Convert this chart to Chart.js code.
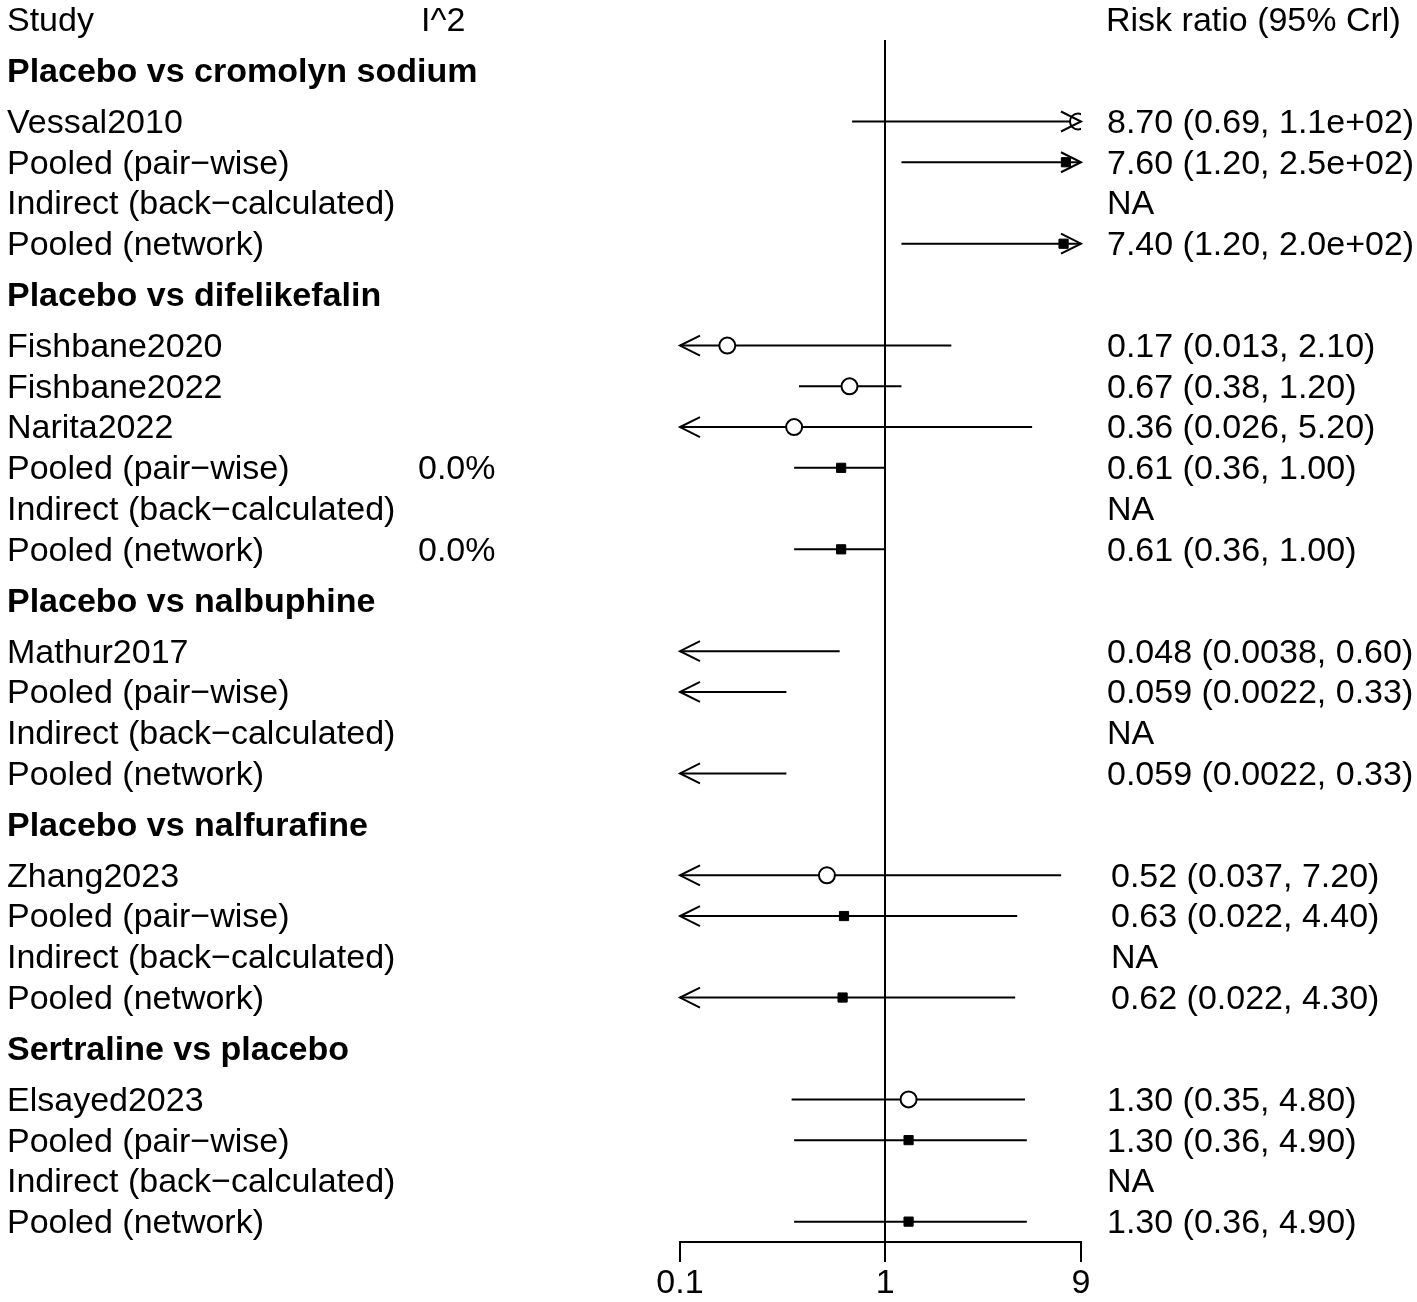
<!DOCTYPE html>
<html>
<head>
<meta charset="utf-8">
<title>Forest plot - risk ratio</title>
<script src="https://cdn.jsdelivr.net/npm/chart.js@4.4.1/dist/chart.umd.min.js"></script>
<style>
  html, body { margin: 0; padding: 0; background: #fff; }
  #wrap { width: 1417px; height: 1302px; position: relative; }
</style>
</head>
<body>
<div id="wrap"><canvas id="forest"></canvas></div>
<script>
// comparisons and how many rows sit under each one
const comparisons = [
  "Placebo vs cromolyn sodium",
  "Placebo vs difelikefalin",
  "Placebo vs nalbuphine",
  "Placebo vs nalfurafine",
  "Sertraline vs placebo",
];
const groupSizes = [4, 6, 4, 4, 4];

const rowLabels = [
  "Vessal2010", "Pooled (pair\u2212wise)", "Indirect (back\u2212calculated)", "Pooled (network)",
  "Fishbane2020", "Fishbane2022", "Narita2022", "Pooled (pair\u2212wise)", "Indirect (back\u2212calculated)", "Pooled (network)",
  "Mathur2017", "Pooled (pair\u2212wise)", "Indirect (back\u2212calculated)", "Pooled (network)",
  "Zhang2023", "Pooled (pair\u2212wise)", "Indirect (back\u2212calculated)", "Pooled (network)",
  "Elsayed2023", "Pooled (pair\u2212wise)", "Indirect (back\u2212calculated)", "Pooled (network)",
];
const rowKind = [
  "study", "pooled", "indirect", "pooled",
  "study", "study", "study", "pooled", "indirect", "pooled",
  "study", "pooled", "indirect", "pooled",
  "study", "pooled", "indirect", "pooled",
  "study", "pooled", "indirect", "pooled",
];
const estimate = [
  8.70, 7.60, null, 7.40,
  0.17, 0.67, 0.36, 0.61, null, 0.61,
  0.048, 0.059, null, 0.059,
  0.52, 0.63, null, 0.62,
  1.30, 1.30, null, 1.30,
];
const lowerCrI = [
  0.69, 1.20, null, 1.20,
  0.013, 0.38, 0.026, 0.36, null, 0.36,
  0.0038, 0.0022, null, 0.0022,
  0.037, 0.022, null, 0.022,
  0.35, 0.36, null, 0.36,
];
const upperCrI = [
  110, 250, null, 200,
  2.10, 1.20, 5.20, 1.00, null, 1.00,
  0.60, 0.33, null, 0.33,
  7.20, 4.40, null, 4.30,
  4.80, 4.90, null, 4.90,
];
const iSquared = [
  "", "", "", "",
  "", "", "", "0.0%", "", "0.0%",
  "", "", "", "",
  "", "", "", "",
  "", "", "", "",
];
const crIText = [
  "8.70 (0.69, 1.1e+02)", "7.60 (1.20, 2.5e+02)", "NA", "7.40 (1.20, 2.0e+02)",
  "0.17 (0.013, 2.10)", "0.67 (0.38, 1.20)", "0.36 (0.026, 5.20)", "0.61 (0.36, 1.00)", "NA", "0.61 (0.36, 1.00)",
  "0.048 (0.0038, 0.60)", "0.059 (0.0022, 0.33)", "NA", "0.059 (0.0022, 0.33)",
  "0.52 (0.037, 7.20)", "0.63 (0.022, 4.40)", "NA", "0.62 (0.022, 4.30)",
  "1.30 (0.35, 4.80)", "1.30 (0.36, 4.90)", "NA", "1.30 (0.36, 4.90)",
];
const axisTicks = [0.1, 1, 9];
const axisMin = 0.1, axisMax = 9;

// vertical slots: headers get a bit more room than plain rows
const headerPos = [];
const rowPos = [];
const rowGroup = [];
let pos = 0;
groupSizes.forEach((n, g) => {
  pos += 1.25;
  headerPos.push(pos);
  pos += 0.25;
  for (let i = 0; i < n; i++) {
    pos += 1;
    rowPos.push(pos);
    rowGroup.push(g);
  }
});

const FONT = '"Liberation Sans", Arial, Helvetica, sans-serif';
const LW = 2;
const inRange = v => v != null && v >= axisMin && v <= axisMax;

const studyPoints = [];
const pooledPoints = [];
estimate.forEach((e, i) => {
  if (!inRange(e)) return;
  const p = { x: e, y: rowPos[i] };
  if (rowKind[i] === "study") studyPoints.push(p);
  else if (rowKind[i] === "pooled") pooledPoints.push(p);
});

function arrowHead(ctx, x, y, dir) {
  ctx.beginPath();
  ctx.moveTo(x - dir * 20, y - 10);
  ctx.lineTo(x, y);
  ctx.lineTo(x - dir * 20, y + 10);
  ctx.stroke();
}

// interval lines (under the markers) and arrows (over them)
const intervalPlugin = {
  id: "intervals",
  beforeDatasetsDraw(chart) {
    const ctx = chart.ctx, xs = chart.scales.x, ys = chart.scales.y;
    ctx.save();
    ctx.strokeStyle = "#000";
    ctx.lineWidth = LW;
    estimate.forEach((e, i) => {
      if (e == null) return;
      const lo = Math.max(lowerCrI[i], axisMin);
      const hi = Math.min(upperCrI[i], axisMax);
      const y = ys.getPixelForValue(rowPos[i]);
      ctx.beginPath();
      ctx.moveTo(xs.getPixelForValue(lo), y);
      ctx.lineTo(xs.getPixelForValue(hi), y);
      ctx.stroke();
    });
    ctx.restore();
  },
  afterDatasetsDraw(chart) {
    const ctx = chart.ctx, xs = chart.scales.x, ys = chart.scales.y;
    ctx.save();
    ctx.strokeStyle = "#000";
    ctx.lineWidth = LW;
    estimate.forEach((e, i) => {
      if (e == null) return;
      const y = ys.getPixelForValue(rowPos[i]);
      if (lowerCrI[i] < axisMin) arrowHead(ctx, xs.getPixelForValue(axisMin), y, -1);
      if (upperCrI[i] > axisMax) arrowHead(ctx, xs.getPixelForValue(axisMax), y, 1);
    });
    ctx.restore();
  },
};

// table text on both sides of the plot
const textPlugin = {
  id: "tableText",
  afterDraw(chart) {
    const ctx = chart.ctx, ys = chart.scales.y;
    const rightX = g => (g === 3 ? 1111 : 1107);
    const ty = v => ys.getPixelForValue(v) + 2;
    ctx.save();
    ctx.fillStyle = "#000";
    ctx.textBaseline = "middle";
    ctx.textAlign = "left";
    ctx.font = "34px " + FONT;
    ctx.fillText("Study", 7, ty(0));
    ctx.fillText("I^2", 421, ty(0));
    ctx.fillText("Risk ratio (95% Crl)", 1106, ty(0));

    ctx.font = "bold 34px " + FONT;
    comparisons.forEach((c, g) => ctx.fillText(c, 7, ty(headerPos[g])));

    ctx.font = "34px " + FONT;
    rowLabels.forEach((lab, i) => {
      const y = ty(rowPos[i]);
      ctx.fillText(lab, 7, y);
      if (iSquared[i]) ctx.fillText(iSquared[i], 418, y);
      ctx.fillText(crIText[i], rightX(rowGroup[i]), y);
    });
    ctx.restore();
  },
};

new Chart(document.getElementById("forest"), {
  type: "scatter",
  data: {
    datasets: [
      {
        label: "Study",
        data: studyPoints,
        pointStyle: "circle",
        pointRadius: 8,
        pointBackgroundColor: "#fff",
        pointBorderColor: "#000",
        pointBorderWidth: LW,
      },
      {
        label: "Pooled",
        data: pooledPoints,
        pointStyle: "rect",
        pointRadius: 6.5,
        pointBackgroundColor: "#000",
        pointBorderColor: "#000",
        pointBorderWidth: 1,
      },
    ],
  },
  options: {
    responsive: true,
    maintainAspectRatio: false,
    animation: false,
    layout: { padding: { left: 680, right: 336, top: 40, bottom: -4 } },
    plugins: {
      legend: { display: false },
      tooltip: { enabled: false },
    },
    scales: {
      x: {
        type: "logarithmic",
        min: axisMin,
        max: axisMax,
        afterBuildTicks: scale => {
          scale.ticks = axisTicks.map(v => ({ value: v }));
        },
        ticks: {
          callback: v => String(v),
          color: "#000",
          font: { family: FONT, size: 34, lineHeight: 1 },
          padding: 5,
          maxRotation: 0,
          autoSkip: false,
        },
        grid: {
          color: c => (c.tick && c.tick.value === 1 ? "#000" : "rgba(0,0,0,0)"),
          tickColor: "#000",
          lineWidth: LW,
          tickLength: 20,
        },
        border: { display: true, color: "#000", width: LW },
      },
      y: {
        type: "linear",
        min: 0.5,
        max: 30,
        reverse: true,
        display: false,
      },
    },
  },
  plugins: [intervalPlugin, textPlugin],
});
</script>
</body>
</html>
